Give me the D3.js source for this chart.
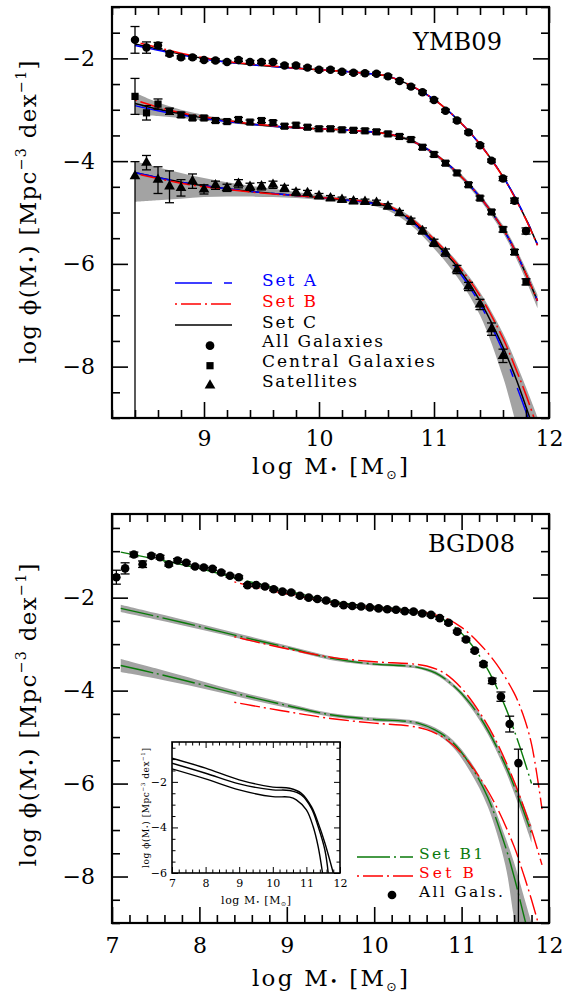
<!DOCTYPE html>
<html><head><meta charset="utf-8">
<script src="https://cdn.jsdelivr.net/npm/d3@7/dist/d3.min.js"></script>
<style>html,body{margin:0;padding:0;background:#fff}svg{display:block}</style>
</head><body>
<svg id="chart" width="568" height="996"></svg>
<script>
// ================= DATA =================
// --- Top panel (YMB09) observed points ---
const ymbMass = [8.4,8.5,8.6,8.7,8.8,8.9,9.0,9.1,9.2,9.3,9.4,9.5,9.6,9.7,9.8,9.9,10.0,10.1,10.2,10.3,10.4,10.5,10.6,10.7,10.8,10.9,11.0,11.1,11.2,11.3,11.4,11.5,11.6,11.7,11.8];
const ymbAll = [-1.64,-1.79,-1.75,-1.91,-1.98,-1.98,-2.03,-2.04,-2.07,-2.03,-2.07,-2.07,-2.07,-2.14,-2.14,-2.18,-2.22,-2.22,-2.26,-2.28,-2.29,-2.30,-2.35,-2.44,-2.55,-2.66,-2.81,-3.02,-3.21,-3.44,-3.69,-3.99,-4.34,-4.77,-5.36];
const ymbAllErr = [0.26,0.11,0.06,0.04,0.03,0.03,0.03,0.03,0.03,0.03,0.03,0.03,0.03,0.03,0.03,0.03,0.03,0.03,0.03,0.03,0.03,0.03,0.03,0.03,0.03,0.03,0.03,0.03,0.03,0.03,0.03,0.03,0.04,0.05,0.06];
const ymbCen = [-2.74,-3.06,-2.89,-3.03,-3.10,-3.16,-3.16,-3.21,-3.23,-3.19,-3.24,-3.21,-3.25,-3.32,-3.30,-3.34,-3.37,-3.37,-3.39,-3.40,-3.41,-3.43,-3.47,-3.52,-3.58,-3.73,-3.87,-4.04,-4.23,-4.46,-4.72,-4.99,-5.33,-5.77,-6.35];
const ymbCenErr = [0.35,0.14,0.10,0.06,0.05,0.04,0.04,0.04,0.04,0.04,0.04,0.04,0.04,0.04,0.04,0.04,0.04,0.04,0.04,0.04,0.04,0.04,0.04,0.04,0.04,0.04,0.04,0.04,0.04,0.04,0.04,0.04,0.05,0.05,0.06];
const ymbSatMass = [8.4,8.5,8.6,8.7,8.8,8.9,9.0,9.1,9.2,9.3,9.4,9.5,9.6,9.7,9.8,9.9,10.0,10.1,10.2,10.3,10.4,10.5,10.6,10.7,10.8,10.9,11.0,11.1,11.2,11.3,11.4,11.5,11.6];
const ymbSat = [-4.29,-4.03,-4.36,-4.49,-4.52,-4.39,-4.55,-4.47,-4.52,-4.44,-4.50,-4.49,-4.46,-4.53,-4.61,-4.62,-4.68,-4.72,-4.75,-4.78,-4.79,-4.81,-4.88,-5.01,-5.17,-5.36,-5.59,-5.78,-6.11,-6.44,-6.79,-7.27,-7.79];
const ymbSatErrHi = [0.28,0.14,0.25,0.30,0.16,0.14,0.09,0.08,0.07,0.08,0.07,0.07,0.07,0.06,0.06,0.05,0.05,0.05,0.05,0.05,0.05,0.05,0.05,0.05,0.06,0.06,0.07,0.07,0.08,0.08,0.10,0.12,0.13];
const ymbSatErrLo = [5.00,0.14,0.27,0.32,0.16,0.14,0.09,0.08,0.07,0.08,0.07,0.07,0.07,0.06,0.06,0.05,0.05,0.05,0.05,0.05,0.05,0.05,0.05,0.05,0.06,0.06,0.07,0.07,0.08,0.08,0.10,0.12,0.13];

// --- Top panel model curves ---
const fitMassTop = [8.4,8.6,8.8,9.0,9.2,9.4,9.6,9.8,10.0,10.2,10.4,10.6,10.8,11.0,11.2,11.4,11.6,11.7,11.8,11.9];
const allSetA = [-1.75,-1.84,-1.93,-2.01,-2.07,-2.12,-2.16,-2.19,-2.22,-2.25,-2.29,-2.35,-2.53,-2.80,-3.18,-3.67,-4.30,-4.68,-5.12,-5.62];
const allSetB = [-1.68,-1.79,-1.90,-1.99,-2.06,-2.11,-2.15,-2.19,-2.22,-2.25,-2.29,-2.35,-2.53,-2.80,-3.18,-3.67,-4.31,-4.70,-5.14,-5.64];
const allSetC = [-1.72,-1.82,-1.92,-2.00,-2.07,-2.12,-2.16,-2.19,-2.22,-2.25,-2.29,-2.35,-2.53,-2.80,-3.18,-3.67,-4.30,-4.69,-5.13,-5.63];
const cenSetA = [-2.92,-3.02,-3.10,-3.17,-3.23,-3.28,-3.32,-3.35,-3.37,-3.39,-3.42,-3.47,-3.60,-3.85,-4.22,-4.70,-5.32,-5.72,-6.20,-6.72];
const cenSetB = [-2.81,-2.95,-3.06,-3.14,-3.21,-3.27,-3.31,-3.35,-3.37,-3.39,-3.42,-3.47,-3.60,-3.85,-4.22,-4.70,-5.32,-5.72,-6.20,-6.72];
const cenSetC = [-2.88,-2.99,-3.08,-3.16,-3.22,-3.28,-3.32,-3.35,-3.37,-3.39,-3.42,-3.47,-3.60,-3.85,-4.22,-4.70,-5.32,-5.72,-6.20,-6.72];
const cenBandHi = [-2.67,-2.86,-3.00,-3.10,-3.18,-3.25,-3.30,-3.33,-3.35,-3.37,-3.40,-3.45,-3.57,-3.82,-4.18,-4.65,-5.25,-5.64,-6.10,-6.60];
const cenBandLo = [-3.10,-3.12,-3.16,-3.21,-3.26,-3.30,-3.34,-3.37,-3.39,-3.41,-3.44,-3.50,-3.63,-3.89,-4.27,-4.76,-5.40,-5.82,-6.32,-6.86];
const satSetA = [-4.22,-4.32,-4.41,-4.48,-4.54,-4.59,-4.63,-4.67,-4.71,-4.75,-4.80,-4.90,-5.17,-5.60,-6.10,-6.78,-7.70,-8.27,-8.88,-9.55];
const satSetB = [-4.24,-4.34,-4.43,-4.50,-4.55,-4.60,-4.64,-4.67,-4.71,-4.74,-4.78,-4.87,-5.12,-5.52,-6.00,-6.62,-7.45,-7.98,-8.55,-9.20];
const satSetC = [-4.22,-4.32,-4.41,-4.48,-4.54,-4.59,-4.63,-4.67,-4.71,-4.75,-4.79,-4.89,-5.15,-5.57,-6.05,-6.72,-7.62,-8.16,-8.78,-9.45];
const satBandHi = [-4.00,-4.12,-4.23,-4.33,-4.41,-4.48,-4.54,-4.60,-4.66,-4.71,-4.75,-4.84,-5.08,-5.48,-5.95,-6.55,-7.35,-7.85,-8.40,-8.98];
const satBandLo = [-4.79,-4.76,-4.73,-4.70,-4.69,-4.69,-4.70,-4.72,-4.75,-4.79,-4.84,-4.96,-5.25,-5.70,-6.25,-7.00,-8.20,-9.00,-9.80,-10.60];

// --- Bottom panel (BGD08) observed points ---
const bgdMass = [7.05,7.15,7.25,7.35,7.45,7.55,7.65,7.75,7.85,7.95,8.05,8.15,8.25,8.35,8.45,8.55,8.65,8.75,8.85,8.95,9.05,9.15,9.25,9.35,9.45,9.55,9.65,9.75,9.85,9.95,10.05,10.15,10.25,10.35,10.45,10.55,10.65,10.75,10.85,10.95,11.05,11.15,11.25,11.35,11.45,11.55,11.65];
const bgdAll = [-1.56,-1.37,-1.07,-1.28,-1.10,-1.13,-1.28,-1.20,-1.25,-1.33,-1.35,-1.38,-1.46,-1.53,-1.56,-1.73,-1.73,-1.76,-1.82,-1.87,-1.89,-1.96,-2.00,-2.03,-2.06,-2.12,-2.16,-2.18,-2.19,-2.21,-2.23,-2.25,-2.26,-2.29,-2.30,-2.34,-2.37,-2.44,-2.54,-2.73,-2.90,-3.14,-3.43,-3.79,-4.13,-4.72,-5.56];
const bgdErrHi = [0.15,0.12,0.05,0.07,0.04,0.04,0.04,0.04,0.03,0.03,0.03,0.03,0.03,0.03,0.03,0.03,0.03,0.03,0.03,0.03,0.03,0.03,0.03,0.03,0.03,0.03,0.03,0.03,0.03,0.03,0.03,0.03,0.03,0.03,0.03,0.03,0.03,0.03,0.03,0.03,0.03,0.03,0.04,0.06,0.10,0.17,0.30];
const bgdErrLo = [0.15,0.12,0.05,0.07,0.04,0.04,0.04,0.04,0.03,0.03,0.03,0.03,0.03,0.03,0.03,0.03,0.03,0.03,0.03,0.03,0.03,0.03,0.03,0.03,0.03,0.03,0.03,0.03,0.03,0.03,0.03,0.03,0.03,0.03,0.03,0.03,0.03,0.03,0.03,0.03,0.03,0.03,0.04,0.06,0.10,0.17,4.00];

// --- Bottom panel model curves ---
const b1Mass = [7.1,7.5,8.0,8.5,9.0,9.5,10.0,10.3,10.5,10.7,10.9,11.1,11.3,11.5,11.6,11.7,11.8];
const allB1 = [-1.02,-1.17,-1.37,-1.62,-1.85,-2.07,-2.20,-2.25,-2.30,-2.39,-2.60,-2.98,-3.55,-4.35,-4.85,-5.40,-6.00];
const cenB1 = [-2.23,-2.40,-2.62,-2.85,-3.07,-3.30,-3.43,-3.46,-3.50,-3.62,-3.88,-4.28,-4.85,-5.60,-6.05,-6.55,-7.07];
const cenB1Hi = [-2.15,-2.33,-2.56,-2.80,-3.03,-3.26,-3.40,-3.43,-3.47,-3.58,-3.84,-4.22,-4.78,-5.50,-5.93,-6.40,-6.90];
const cenB1Lo = [-2.31,-2.47,-2.68,-2.90,-3.11,-3.34,-3.46,-3.49,-3.53,-3.66,-3.93,-4.35,-4.94,-5.72,-6.20,-6.72,-7.27];
const satB1 = [-3.46,-3.63,-3.86,-4.10,-4.32,-4.52,-4.62,-4.65,-4.70,-4.85,-5.12,-5.60,-6.30,-7.35,-8.00,-8.75,-9.50];
const satB1Hi = [-3.32,-3.52,-3.78,-4.04,-4.27,-4.48,-4.58,-4.61,-4.66,-4.80,-5.06,-5.52,-6.18,-7.15,-7.70,-8.35,-9.00];
const satB1Lo = [-3.60,-3.74,-3.94,-4.16,-4.37,-4.56,-4.66,-4.69,-4.75,-4.92,-5.22,-5.75,-6.50,-7.75,-8.90,-9.80,-10.60];
const bMass = [8.4,8.6,9.0,9.5,10.0,10.4,10.6,10.8,11.0,11.2,11.4,11.6,11.7,11.8,11.92];
const allB = [-1.66,-1.76,-1.92,-2.10,-2.22,-2.29,-2.33,-2.43,-2.64,-2.98,-3.43,-4.05,-4.50,-5.15,-6.55];
const cenB = [-2.84,-2.93,-3.10,-3.28,-3.38,-3.42,-3.47,-3.62,-3.95,-4.45,-5.10,-5.95,-6.45,-7.00,-7.75];
const satB = [-4.25,-4.32,-4.45,-4.60,-4.70,-4.76,-4.84,-5.02,-5.35,-5.85,-6.50,-7.35,-7.90,-8.50,-9.30];

// --- Inset curves ---
const insMassTop = [7,8,9,10,10.5,10.85,11.15,11.35,11.55,11.8];
const insTop = [-0.96,-1.40,-1.91,-2.23,-2.28,-2.50,-3.09,-3.80,-4.68,-6.0];
const insMassMid = [7,8,9,10,10.5,10.85,11.15,11.35,11.55,11.65];
const insMid = [-1.18,-1.62,-2.09,-2.35,-2.38,-2.57,-3.16,-3.96,-4.99,-6.0];
const insMassBot = [7,8,9,10,10.5,10.7,11.0,11.2,11.35,11.48];
const insBot = [-1.43,-1.87,-2.35,-2.65,-2.67,-2.79,-3.23,-3.96,-4.84,-6.0];

// --- Tick labels ---
const topXTicks = [9,10,11,12];
const botXTicks = [7,8,9,10,11,12];
const yTicks = [-8,-6,-4,-2];
const insYTicks = [-6,-4,-2];

// ================= DRAW =================
const svg = d3.select('#chart');
const FONT = "'DejaVu Serif','Liberation Serif',serif";
const BLUE = '#0000ff', RED = '#ff0000', GREEN = '#0a7a0a', GRAY = '#a3a3a3';
const DASH_A = '37,12,8,12', DASH_B = '2,4,20,4', DASH_B1 = '33,4,2,4';

const topX = d3.scaleLinear().domain([8.2,12]).range([112,549]);
const topY = d3.scaleLinear().domain([-9,-1]).range([418,7]);
const botX = d3.scaleLinear().domain([7,12]).range([112,549]);
const botY = d3.scaleLinear().domain([-9,-0.2]).range([923,514]);
const insX = d3.scaleLinear().domain([7,12]).range([172,340]);
const insY = d3.scaleLinear().domain([-6,-0.25]).range([873,742]);

const zip = (xs, ...cols) => xs.map((v,i) => [v, ...cols.map(c => c[i])]);
const defs = svg.append('defs');
function clip(id, x, y) {
  const [x0,x1] = x.range(), [y0,y1] = y.range();
  defs.append('clipPath').attr('id', id).append('rect')
    .attr('x', x0).attr('y', y1).attr('width', x1 - x0).attr('height', y0 - y1);
}
clip('clipTop', topX, topY); clip('clipBot', botX, botY); clip('clipIns', insX, insY);

const isMajor = v => Math.abs(v - Math.round(v)) < 1e-6;
function axes(g, x, y, o) {
  const [xl, xr] = x.range(), [yb, yt] = y.range();
  const style = sel => {
    sel.select('.domain').remove();
    sel.selectAll('line').attr('stroke', '#000').attr('stroke-width', o.tw);
    sel.attr('font-family', FONT).attr('font-size', o.fs);
    sel.selectAll('text').attr('fill', '#000');
  };
  const fmt = d3.format('d');
  g.append('g').attr('transform', `translate(0,${yb})`).call(d3.axisBottom(x).tickValues(o.xMinor).tickSize(-o.minor).tickFormat('')).call(style);
  g.append('g').attr('transform', `translate(0,${yt})`).call(d3.axisTop(x).tickValues(o.xMinor).tickSize(-o.minor).tickFormat('')).call(style);
  g.append('g').attr('transform', `translate(${xl},0)`).call(d3.axisLeft(y).tickValues(o.yMinor).tickSize(-o.minor).tickFormat('')).call(style);
  g.append('g').attr('transform', `translate(${xr},0)`).call(d3.axisRight(y).tickValues(o.yMinor).tickSize(-o.minor).tickFormat('')).call(style);
  g.append('g').attr('transform', `translate(0,${yb})`).call(d3.axisBottom(x).tickValues(o.xMajor).tickSize(-o.major).tickPadding(o.xpad).tickFormat(fmt)).call(style);
  g.append('g').attr('transform', `translate(0,${yt})`).call(d3.axisTop(x).tickValues(o.xMajor).tickSize(-o.major).tickFormat('')).call(style);
  g.append('g').attr('transform', `translate(${xl},0)`).call(d3.axisLeft(y).tickValues(o.yMajor).tickSize(-o.major).tickPadding(o.ypad).tickFormat(fmt)).call(style);
  g.append('g').attr('transform', `translate(${xr},0)`).call(d3.axisRight(y).tickValues(o.yMajor).tickSize(-o.major).tickFormat('')).call(style);
  g.append('rect').attr('x', xl).attr('y', yt).attr('width', xr - xl).attr('height', yb - yt)
    .attr('fill', 'none').attr('stroke', '#000').attr('stroke-width', o.fw);
}

function lineOf(x, y) { return d3.line().x(d => x(d[0])).y(d => y(d[1])).curve(d3.curveCatmullRom.alpha(0.5)); }
function areaOf(x, y) { return d3.area().x(d => x(d[0])).y0(d => y(d[1])).y1(d => y(d[2])).curve(d3.curveCatmullRom.alpha(0.5)); }

function drawLine(g, x, y, xs, ys, color, dash, w) {
  g.append('path').datum(zip(xs, ys)).attr('d', lineOf(x, y))
    .attr('fill', 'none').attr('stroke', color).attr('stroke-width', w || 1.5)
    .attr('stroke-dasharray', dash || null);
}
function drawBand(g, x, y, xs, lo, hi) {
  g.append('path').datum(zip(xs, lo, hi)).attr('d', areaOf(x, y)).attr('fill', GRAY).attr('stroke', 'none');
}
function errBars(g, x, y, xs, ys, hi, lo, cap) {
  const data = zip(xs, ys, hi, lo);
  const eg = g.append('g').attr('stroke', '#000').attr('stroke-width', 1.3);
  data.forEach(d => {
    const px = x(d[0]), yt = y(d[1] + d[2]), yb = y(d[1] - d[3]);
    eg.append('line').attr('x1', px).attr('x2', px).attr('y1', yt).attr('y2', yb);
    eg.append('line').attr('x1', px - cap).attr('x2', px + cap).attr('y1', yt).attr('y2', yt);
    eg.append('line').attr('x1', px - cap).attr('x2', px + cap).attr('y1', yb).attr('y2', yb);
  });
}
function markers(g, x, y, xs, ys, type, size) {
  const sym = d3.symbol().type(type).size(size);
  g.append('g').selectAll('path').data(zip(xs, ys)).join('path')
    .attr('transform', d => `translate(${x(d[0])},${y(d[1])})`)
    .attr('d', sym).attr('fill', '#000');
}

// label helpers
function massLabel(t, fs) {
  t.append('tspan').text('log M');
  t.append('tspan').attr('font-size', fs * 0.55).attr('dy', fs * 0.02).text('•');
  t.append('tspan').attr('dy', -fs * 0.02).text(' [M');
  t.append('tspan').attr('font-size', fs * 0.55).attr('dy', fs * 0.22).attr('font-family', "'DejaVu Sans',sans-serif").text('⊙');
  t.append('tspan').attr('dy', -fs * 0.22).text(']');
}
function phiLabel(t, fs) {
  t.append('tspan').text('log ϕ(M');
  t.append('tspan').attr('font-size', fs * 0.55).attr('dy', fs * 0.02).text('•');
  t.append('tspan').attr('dy', -fs * 0.02).text(') [Mpc');
  t.append('tspan').attr('font-size', fs * 0.62).attr('dy', -fs * 0.42).text('−3');
  t.append('tspan').attr('dy', fs * 0.42).text(' dex');
  t.append('tspan').attr('font-size', fs * 0.62).attr('dy', -fs * 0.42).text('−1');
  t.append('tspan').attr('dy', fs * 0.42).text(']');
}
function xTitle(g, cx, by, fs, len) {
  const t = g.append('text').attr('x', cx).attr('y', by).attr('text-anchor', 'middle')
    .attr('font-family', FONT).attr('font-size', fs).attr('fill', '#000');
  massLabel(t, fs);
  if (len) t.attr('textLength', len).attr('lengthAdjust', 'spacing');
}
function yTitle(g, bx, cy, fs, len) {
  const t = g.append('text').attr('transform', `translate(${bx},${cy}) rotate(-90)`).attr('text-anchor', 'middle')
    .attr('font-family', FONT).attr('font-size', fs).attr('fill', '#000');
  phiLabel(t, fs);
  if (len) t.attr('textLength', len).attr('lengthAdjust', 'spacing');
}
function text(g, x, y, s, fs, color, anchor, len) {
  const t = g.append('text').attr('x', x).attr('y', y).attr('font-family', FONT).attr('font-size', fs)
    .attr('fill', color || '#000').attr('text-anchor', anchor || 'start').text(s);
  if (len) t.attr('textLength', len).attr('lengthAdjust', 'spacing');
  return t;
}

const minorX = (a, b) => d3.range(a, b + 1e-6, 0.2).filter(v => !isMajor(v));
const minorY = (a, b) => d3.range(a, b + 1e-6, 0.5).filter(v => !isMajor(v / 2));

// ---------------- TOP PANEL ----------------
const gTop = svg.append('g');
const pTop = gTop.append('g').attr('clip-path', 'url(#clipTop)');
drawBand(pTop, topX, topY, fitMassTop, cenBandLo, cenBandHi);
drawBand(pTop, topX, topY, fitMassTop, satBandLo, satBandHi);
[[allSetC, cenSetC, satSetC, '#000', null], [allSetA, cenSetA, satSetA, BLUE, DASH_A], [allSetB, cenSetB, satSetB, RED, DASH_B]]
  .forEach(([a, c, s, col, dash]) => {
    drawLine(pTop, topX, topY, fitMassTop, a, col, dash, 1.5);
    drawLine(pTop, topX, topY, fitMassTop, c, col, dash, 1.5);
    drawLine(pTop, topX, topY, fitMassTop, s, col, dash, 1.5);
  });
errBars(pTop, topX, topY, ymbMass, ymbAll, ymbAllErr, ymbAllErr, 4.5);
errBars(pTop, topX, topY, ymbMass, ymbCen, ymbCenErr, ymbCenErr, 4.5);
errBars(pTop, topX, topY, ymbSatMass, ymbSat, ymbSatErrHi, ymbSatErrLo, 4.5);
markers(pTop, topX, topY, ymbMass, ymbAll, d3.symbolCircle, 56);
markers(pTop, topX, topY, ymbMass, ymbCen, d3.symbolSquare, 52);
markers(pTop, topX, topY, ymbSatMass, ymbSat, d3.symbolTriangle, 50);

axes(gTop, topX, topY, {
  xMajor: topXTicks, xMinor: minorX(8.2, 12), yMajor: yTicks, yMinor: minorY(-9, -1),
  major: 16, minor: 8, tw: 1.6, fw: 2.2, fs: 22, xpad: 12, ypad: 17
});
xTitle(gTop, 330, 474, 23, 156);
yTitle(gTop, 36, 212, 23, 303);
text(gTop, 502, 50, 'YMB09', 24, '#000', 'end', 89);

// top legend
const lgT = gTop.append('g');
const legLines = [[BLUE, DASH_A, 283, 'Set A'], [RED, DASH_B, 304, 'Set B'], ['#000', null, 325, 'Set C']];
legLines.forEach(([col, dash, yy, lab]) => {
  lgT.append('line').attr('x1', 175).attr('x2', 232).attr('y1', yy).attr('y2', yy)
    .attr('stroke', col).attr('stroke-width', 1.5).attr('stroke-dasharray', dash);
  text(lgT, 262, yy + 2.5, lab, 17, col, 'start', 54);
});
const legSyms = [[d3.symbolCircle, 60, 345.7, 'All Galaxies', 121], [d3.symbolSquare, 52, 365.7, 'Central Galaxies', 173], [d3.symbolTriangle, 50, 385.5, 'Satellites', 95]];
legSyms.forEach(([sy, sz, yy, lab, len]) => {
  lgT.append('path').attr('transform', `translate(210,${yy})`).attr('d', d3.symbol().type(sy).size(sz)).attr('fill', '#000');
  text(lgT, 262, yy + 1.5, lab, 17, '#000', 'start', len);
});

// ---------------- BOTTOM PANEL ----------------
const gBot = svg.append('g');
const pBot = gBot.append('g').attr('clip-path', 'url(#clipBot)');
drawBand(pBot, botX, botY, b1Mass, cenB1Lo, cenB1Hi);
drawBand(pBot, botX, botY, b1Mass, satB1Lo, satB1Hi);
[allB1, cenB1, satB1].forEach(s => drawLine(pBot, botX, botY, b1Mass, s, GREEN, DASH_B1, 1.4));
[allB, cenB, satB].forEach(s => drawLine(pBot, botX, botY, bMass, s, RED, DASH_B, 1.4));
errBars(pBot, botX, botY, bgdMass, bgdAll, bgdErrHi, bgdErrLo, 4.5);
markers(pBot, botX, botY, bgdMass, bgdAll, d3.symbolCircle, 58);

axes(gBot, botX, botY, {
  xMajor: botXTicks, xMinor: minorX(7, 12), yMajor: yTicks, yMinor: minorY(-9, -0.2),
  major: 16, minor: 8, tw: 1.6, fw: 2.2, fs: 22, xpad: 14, ypad: 17
});
xTitle(gBot, 330, 986, 23, 156);
yTitle(gBot, 36, 715, 23, 303);
text(gBot, 515, 552, 'BGD08', 24, '#000', 'end', 87);

// bottom legend
const lgB = gBot.append('g');
lgB.append('line').attr('x1', 357).attr('x2', 413).attr('y1', 857).attr('y2', 857)
  .attr('stroke', GREEN).attr('stroke-width', 1.5).attr('stroke-dasharray', DASH_B1);
text(lgB, 419, 859, 'Set B1', 15.5, GREEN, 'start', 64);
lgB.append('line').attr('x1', 357).attr('x2', 413).attr('y1', 876).attr('y2', 876)
  .attr('stroke', RED).attr('stroke-width', 1.5).attr('stroke-dasharray', DASH_B);
text(lgB, 419, 877.5, 'Set B', 15.5, RED, 'start', 55);
lgB.append('path').attr('transform', 'translate(392,895)').attr('d', d3.symbol().type(d3.symbolCircle).size(60)).attr('fill', '#000');
text(lgB, 419, 897, 'All Gals.', 15.5, '#000', 'start', 84);

// ---------------- INSET ----------------
const gIns = svg.append('g');
gIns.append('rect').attr('x', 172).attr('y', 742).attr('width', 168).attr('height', 131).attr('fill', '#fff');
const pIns = gIns.append('g').attr('clip-path', 'url(#clipIns)');
drawLine(pIns, insX, insY, insMassTop, insTop, '#000', null, 1.4);
drawLine(pIns, insX, insY, insMassMid, insMid, '#000', null, 1.4);
drawLine(pIns, insX, insY, insMassBot, insBot, '#000', null, 1.4);
axes(gIns, insX, insY, {
  xMajor: botXTicks, xMinor: minorX(7, 12), yMajor: insYTicks, yMinor: minorY(-6, -0.25),
  major: 6, minor: 3.5, tw: 1, fw: 1.6, fs: 11, xpad: 6, ypad: 5
});
xTitle(gIns, 256, 904, 11, 70);
yTitle(gIns, 149, 808, 9, 120);
</script>
</body></html>
